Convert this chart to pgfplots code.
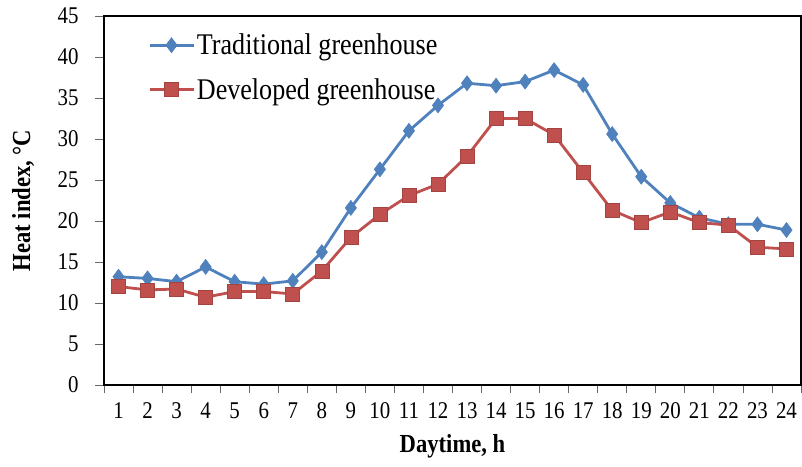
\documentclass[border=0pt]{standalone}
\usepackage{fontspec}
\setmainfont{Liberation Serif}[FakeStretch=0.87]
\usepackage{pgfplots}
\pgfplotsset{compat=1.18}
\definecolor{tblue}{RGB}{79,129,189}
\definecolor{dred}{RGB}{192,80,77}
\begin{document}
\begin{tikzpicture}
\useasboundingbox (-104pt,-81pt) rectangle (698pt,385pt);
\begin{axis}[
  at={(0,0)}, anchor=south west,
  scale only axis, width=697pt, height=369pt,
  xmin=0.5, xmax=24.5, ymin=0, ymax=45,
  xtick={1,...,24},
  minor xtick={0.5,1.5,...,24.5},
  ytick={0,5,...,45},
  tick pos=left,
  tick align=outside,
  major tick length=9pt,
  minor tick length=8pt,
  major x tick style={draw=none},
  minor x tick style={draw=black!60, line width=0.8pt},
  major y tick style={draw=black!60, line width=0.8pt},
  axis line style={draw=black, line width=1.4pt},
  /pgf/number format/assume math mode=true,
  tick label style={font=\fontsize{24}{27}\selectfont},
  xticklabel style={anchor=base, yshift=-24pt},
  yticklabel style={anchor=east, xshift=-13pt},
  xlabel={\bfseries Daytime, h},
  ylabel={\bfseries Heat index, °C},
  label style={font=\fontsize{26}{29}\selectfont},
  xlabel style={at={(axis description cs:0.5,-0.165)}, anchor=center},
  ylabel style={at={(axis description cs:-0.116,0.5)}, anchor=center},
  legend style={at={(axis description cs:0.063,0.957)}, anchor=north west,
    draw=none, fill=none, font=\fontsize{30}{33}\selectfont,
    row sep=18pt, inner sep=0pt},
  legend cell align=left,
  legend image code/.code={\draw[mark repeat=2,mark phase=2] plot coordinates {(0pt,0pt)(22pt,0pt)(44pt,0pt)};},
]
\addplot[color=tblue, line width=2.8pt, mark=diamond*, mark size=7.5pt,
  mark options={fill=tblue, draw=tblue, line width=0.6pt}]
coordinates {
(1,13.2)(2,13.0)(3,12.6)(4,14.4)(5,12.6)(6,12.3)(7,12.7)(8,16.2)
(9,21.6)(10,26.3)(11,31.0)(12,34.1)(13,36.8)(14,36.5)(15,37.0)(16,38.4)
(17,36.6)(18,30.6)(19,25.4)(20,22.2)(21,20.4)(22,19.6)(23,19.6)(24,18.9)};
\addlegendentry{Traditional greenhouse}
\addplot[color=dred, line width=2.8pt, mark=square*, mark size=7pt,
  mark options={fill=dred, draw=dred!85!black, line width=0.6pt}]
coordinates {
(1,12.0)(2,11.6)(3,11.7)(4,10.7)(5,11.4)(6,11.4)(7,11.1)(8,13.9)
(9,18.0)(10,20.8)(11,23.1)(12,24.5)(13,27.9)(14,32.5)(15,32.5)(16,30.5)
(17,25.9)(18,21.3)(19,19.8)(20,21.1)(21,19.8)(22,19.5)(23,16.8)(24,16.6)};
\addlegendentry{Developed greenhouse}
\end{axis}
\end{tikzpicture}
\end{document}
